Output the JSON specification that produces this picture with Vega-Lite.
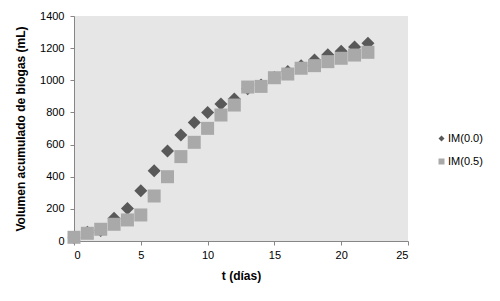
{
  "$schema": "https://vega.github.io/schema/vega-lite/v6.json",
  "width": 334,
  "height": 225,
  "autosize": {"type": "none"},
  "padding": {"left": 74, "top": 16, "right": 92, "bottom": 60},
  "background": "#ffffff",
  "config": {
    "font": "Liberation Sans",
    "view": {"fill": "#e6e6e6", "stroke": null},
    "axis": {
      "grid": false,
      "domainColor": "#868686",
      "tickColor": "#868686",
      "tickSize": 4,
      "labelColor": "#000000",
      "labelFontSize": 11,
      "labelFont": "Liberation Sans",
      "titleFont": "Liberation Sans",
      "titleFontSize": 12,
      "titleFontWeight": "bold",
      "titleColor": "#000000"
    }
  },
  "data": {
    "values": [
      {"t": 0, "v": 20, "s": "IM(0.0)"},
      {"t": 1, "v": 55, "s": "IM(0.0)"},
      {"t": 2, "v": 65, "s": "IM(0.0)"},
      {"t": 3, "v": 141, "s": "IM(0.0)"},
      {"t": 4, "v": 203, "s": "IM(0.0)"},
      {"t": 5, "v": 313, "s": "IM(0.0)"},
      {"t": 6, "v": 437, "s": "IM(0.0)"},
      {"t": 7, "v": 560, "s": "IM(0.0)"},
      {"t": 8, "v": 660, "s": "IM(0.0)"},
      {"t": 9, "v": 738, "s": "IM(0.0)"},
      {"t": 10, "v": 800, "s": "IM(0.0)"},
      {"t": 11, "v": 853, "s": "IM(0.0)"},
      {"t": 12, "v": 884, "s": "IM(0.0)"},
      {"t": 13, "v": 948, "s": "IM(0.0)"},
      {"t": 14, "v": 971, "s": "IM(0.0)"},
      {"t": 15, "v": 1018, "s": "IM(0.0)"},
      {"t": 16, "v": 1054, "s": "IM(0.0)"},
      {"t": 17, "v": 1091, "s": "IM(0.0)"},
      {"t": 18, "v": 1126, "s": "IM(0.0)"},
      {"t": 19, "v": 1159, "s": "IM(0.0)"},
      {"t": 20, "v": 1180, "s": "IM(0.0)"},
      {"t": 21, "v": 1207, "s": "IM(0.0)"},
      {"t": 22, "v": 1230, "s": "IM(0.0)"},
      {"t": 0, "v": 23, "s": "IM(0.5)"},
      {"t": 1, "v": 48, "s": "IM(0.5)"},
      {"t": 2, "v": 73, "s": "IM(0.5)"},
      {"t": 3, "v": 104, "s": "IM(0.5)"},
      {"t": 4, "v": 131, "s": "IM(0.5)"},
      {"t": 5, "v": 162, "s": "IM(0.5)"},
      {"t": 6, "v": 280, "s": "IM(0.5)"},
      {"t": 7, "v": 400, "s": "IM(0.5)"},
      {"t": 8, "v": 525, "s": "IM(0.5)"},
      {"t": 9, "v": 614, "s": "IM(0.5)"},
      {"t": 10, "v": 701, "s": "IM(0.5)"},
      {"t": 11, "v": 784, "s": "IM(0.5)"},
      {"t": 12, "v": 846, "s": "IM(0.5)"},
      {"t": 13, "v": 958, "s": "IM(0.5)"},
      {"t": 14, "v": 962, "s": "IM(0.5)"},
      {"t": 15, "v": 1016, "s": "IM(0.5)"},
      {"t": 16, "v": 1039, "s": "IM(0.5)"},
      {"t": 17, "v": 1075, "s": "IM(0.5)"},
      {"t": 18, "v": 1091, "s": "IM(0.5)"},
      {"t": 19, "v": 1116, "s": "IM(0.5)"},
      {"t": 20, "v": 1137, "s": "IM(0.5)"},
      {"t": 21, "v": 1157, "s": "IM(0.5)"},
      {"t": 22, "v": 1174, "s": "IM(0.5)"}
    ]
  },
  "mark": {"type": "point", "filled": true, "opacity": 1, "size": 169, "clip": false},
  "encoding": {
    "x": {
      "field": "t", "type": "quantitative",
      "scale": {"domain": [0, 25], "nice": false, "zero": true},
      "axis": {"values": [0, 5, 10, 15, 20, 25], "title": "t (días)", "titlePadding": 10, "labelPadding": 4}
    },
    "y": {
      "field": "v", "type": "quantitative",
      "scale": {"domain": [0, 1400], "nice": false},
      "axis": {"values": [0, 200, 400, 600, 800, 1000, 1200, 1400], "format": "d", "title": "Volumen acumulado de biogas (mL)", "titlePadding": 12, "labelPadding": 6}
    },
    "color": {
      "field": "s", "type": "nominal",
      "scale": {"domain": ["IM(0.0)", "IM(0.5)"], "range": ["#595959", "#a9a9a9"]},
      "legend": {
        "title": null, "orient": "none", "legendX": 362, "legendY": 117,
        "labelFontSize": 11, "labelColor": "#000000", "labelFont": "Liberation Sans",
        "symbolSize": 36, "rowPadding": 11, "labelOffset": 1, "padding": 0
      }
    },
    "shape": {
      "field": "s", "type": "nominal",
      "scale": {"domain": ["IM(0.0)", "IM(0.5)"], "range": ["diamond", "square"]}
    }
  }
}
